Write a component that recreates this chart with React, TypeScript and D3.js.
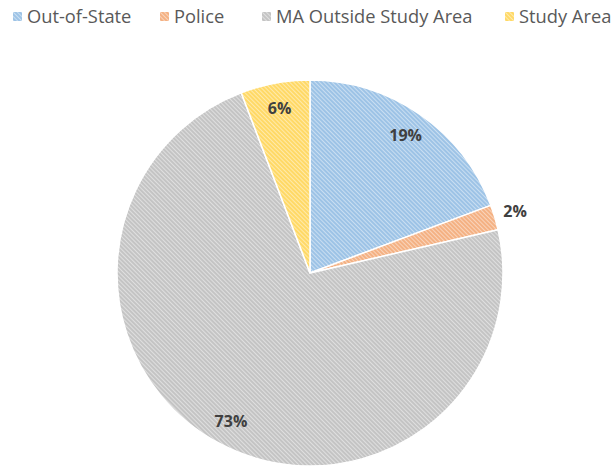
import React from "react";
import * as d3 from "d3";

const categories = ["Out-of-State", "Police", "MA Outside Study Area", "Study Area"];
const shares = [19.3, 2.1, 72.8, 5.8];
const labels = ["19%", "2%", "73%", "6%"];
const colors = ["#9dc3e6", "#f4b183", "#c4c4c4", "#ffd966"];

const W = 615;
const H = 470;
const cx = 310;
const cy = 273;
const R = 193;

export default function App() {
  const data = categories.map((c, i) => ({ key: c, value: shares[i], label: labels[i], color: colors[i] }));
  const pie = d3.pie<any>().sort(null).value((d) => d.value);
  const arcs = pie(data);
  const arc = d3.arc<any>().innerRadius(0).outerRadius(R);
  const legendX = [13, 160, 262, 505];

  return (
    <div style={{ position: "fixed", left: 0, top: 0, width: W, height: H, background: "#fff" }}>
      <svg width={W} height={H} style={{ display: "block" }}>
        <defs>
          {data.map((d, i) => (
            <pattern
              key={i}
              id={`hatch${i}`}
              width={3}
              height={3}
              patternUnits="userSpaceOnUse"
              patternTransform="rotate(-45)"
            >
              <rect width={3} height={3} fill={d.color} />
              <rect width={1} height={3} fill="#ffffff" opacity={0.45} />
            </pattern>
          ))}
        </defs>

        {/* Legend */}
        <g fontFamily="'Open Sans', sans-serif" fontSize={18.3} fill="#595959">
          {data.map((d, i) => (
            <g key={i} transform={`translate(${legendX[i]},0)`}>
              <rect x={0} y={12} width={9} height={9} fill={`url(#hatch${i})`} />
              <text x={14} y={23}>{d.key}</text>
            </g>
          ))}
        </g>

        {/* Pie */}
        <g transform={`translate(${cx},${cy})`}>
          {arcs.map((a, i) => (
            <path key={i} d={arc(a) ?? ""} fill={`url(#hatch${i})`} stroke="#ffffff" strokeWidth={1.5} />
          ))}
          {arcs.map((a, i) => {
            const r = a.data.value < 4 ? R * 1.11 : R * 0.87;
            const [x, y] = d3.arc<any>().innerRadius(r).outerRadius(r).centroid(a);
            return (
              <text
                key={i}
                x={x}
                y={y}
                textAnchor="middle"
                dominantBaseline="central"
                fontFamily="'Open Sans', sans-serif"
                fontWeight="bold"
                fontSize={16}
                fill="#404040"
              >
                {a.data.label}
              </text>
            );
          })}
        </g>
      </svg>
    </div>
  );
}
